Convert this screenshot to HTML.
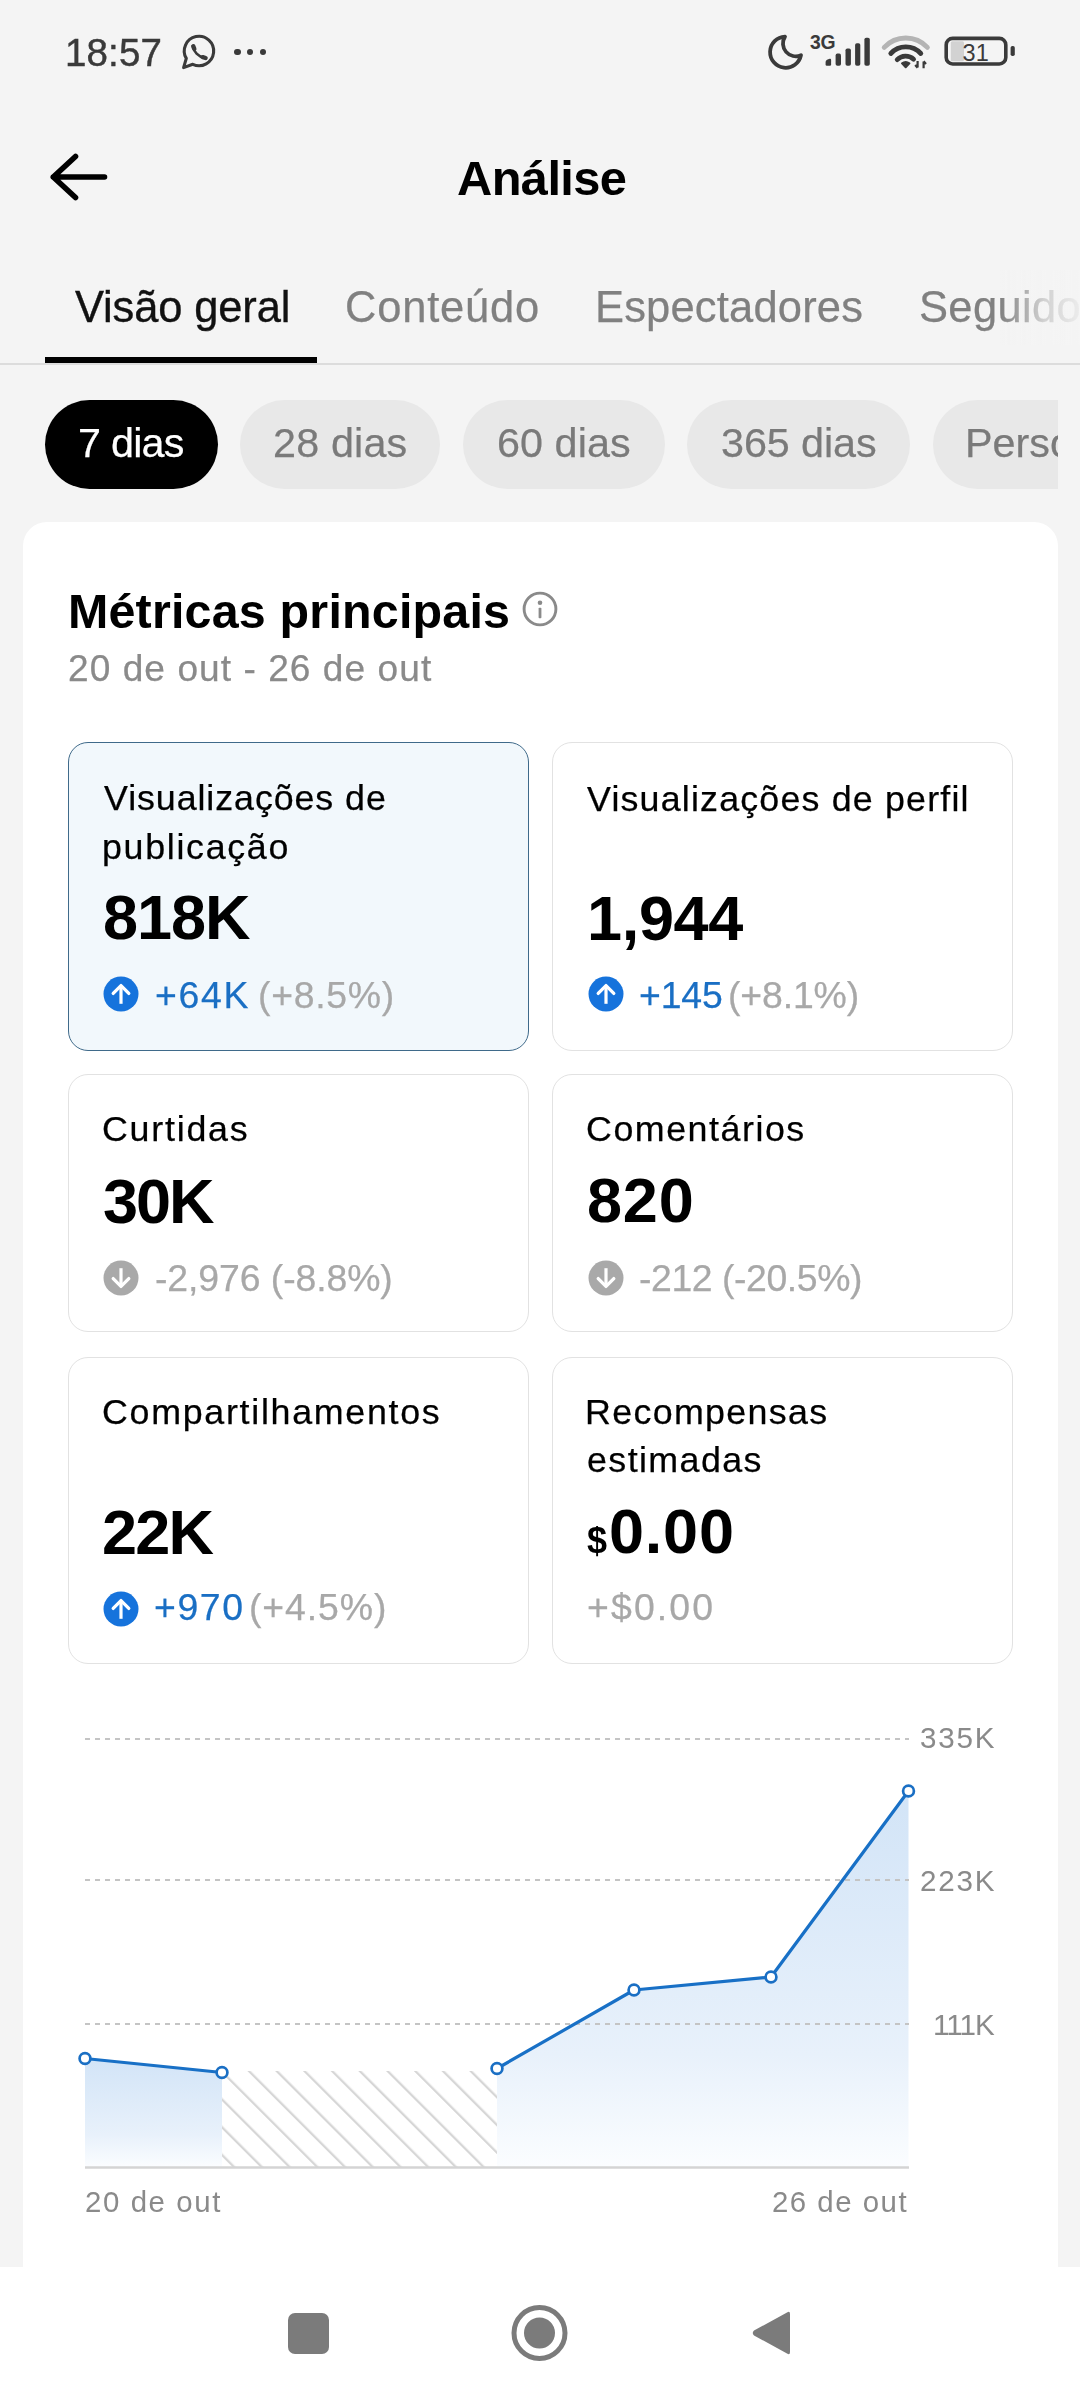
<!DOCTYPE html>
<html><head><meta charset="utf-8"><title>Análise</title>
<style>
html,body{margin:0;padding:0}
body{width:1080px;height:2400px;overflow:hidden;position:relative;background:#f4f4f4;font-family:"Liberation Sans",Arial,sans-serif}
.t{position:absolute;white-space:nowrap;line-height:1;will-change:transform}
.t{line-height:1}
.a{position:absolute}
.dot{width:6.6px;height:6.6px;border-radius:50%;background:#3a3a3a}
</style></head><body>
<div class="t" style="left:65.1px;top:34.2px;font-size:38.5px;font-weight:400;color:#3a3a3a;letter-spacing:0.15px;-webkit-text-stroke:0.45px #3a3a3a;">18:57</div>
<svg class="a" style="left:175px;top:30px" width="48" height="45" viewBox="175 30 48 45">
<path d="M192.8 64.3 A14.7 14.7 0 1 0 186.3 58.4 L183.6 67.6 Z" fill="none" stroke="#3a3a3a" stroke-width="3.1" stroke-linejoin="round"/>
<path d="M193.4 46.5 C193.6 51.5 198 56.6 204.6 57.9" fill="none" stroke="#3a3a3a" stroke-width="2.6" stroke-linecap="round"/>
<path d="M193.2 46.2 L194.3 48.8 M202.8 57.2 L205.6 58" fill="none" stroke="#3a3a3a" stroke-width="4.4" stroke-linecap="round"/>
</svg>
<div class="a dot" style="left:234px;top:48.8px"></div><div class="a dot" style="left:246.8px;top:48.8px"></div><div class="a dot" style="left:259.6px;top:48.8px"></div><svg class="a" style="left:760px;top:28px" width="120" height="46" viewBox="760 28 120 46">
<path d="M785 36.6 A15.6 15.6 0 1 0 801 55.2 A12.8 12.8 0 0 1 785 36.6 Z" fill="none" stroke="#3a3a3a" stroke-width="3.8" stroke-linejoin="round"/>
<g fill="#3a3a3a">
<path d="M825.6 62 Q825.6 60.5 827 59.8 L829.6 58.8 Q831.1 58.3 831.1 60 V64.6 Q831.1 65.8 829.9 65.8 H826.8 Q825.6 65.8 825.6 64.6 Z"/>
<rect x="835.6" y="53.6" width="5.4" height="12.2" rx="1.8"/>
<rect x="845.5" y="48.4" width="5.4" height="17.4" rx="1.8"/>
<rect x="855.1" y="43.2" width="5.2" height="22.6" rx="1.8"/>
<rect x="864.4" y="37.8" width="5.4" height="28" rx="1.8"/>
</g>
<text x="810" y="48.6" font-family="Liberation Sans, sans-serif" font-weight="700" font-size="19.4" fill="#3a3a3a" letter-spacing="-0.3">3G</text>
</svg>
<svg class="a" style="left:875px;top:28px" width="150" height="46" viewBox="875 28 150 46">
<g fill="none" stroke-linecap="round">
<path d="M884.2 47.4 A29.5 29.5 0 0 1 927.4 47.4" stroke="#b4b4b4" stroke-width="4.8"/>
<path d="M890.8 53.5 A20.5 20.5 0 0 1 920.8 53.5" stroke="#3a3a3a" stroke-width="4.8"/>
<path d="M897.2 59.6 A11.8 11.8 0 0 1 913.6 59.2" stroke="#3a3a3a" stroke-width="4.8"/>
</g>
<path d="M902 63.4 Q905.7 60.6 909.4 63.4 L905.7 67.2 Z" fill="#3a3a3a" stroke="#3a3a3a" stroke-width="2" stroke-linejoin="round"/>
<path d="M917.6 61 V67.5 M915.2 65 L917.6 67.8 M923.6 68.2 V61.5 M923.6 61.2 L926 64" fill="none" stroke="#3a3a3a" stroke-width="2.2"/>
<rect x="946.2" y="38.4" width="59.6" height="25.6" rx="6.5" fill="none" stroke="#3a3a3a" stroke-width="3.6"/>
<rect x="950.8" y="41.2" width="13.2" height="20" rx="1.5" fill="#d2d2d2"/>
<rect x="1010.6" y="46" width="4.2" height="10" rx="1.8" fill="#3a3a3a"/>
<text x="962.6" y="60.6" font-family="Liberation Sans, sans-serif" font-size="23.5" fill="#3a3a3a">31</text>
</svg>
<svg class="a" style="left:40px;top:145px" width="80" height="64" viewBox="40 145 80 64">
<path d="M75.5 156.5 L53.3 177 L75.5 197.5 M53.3 177 H104.5" fill="none" stroke="#000" stroke-width="5.6" stroke-linecap="round" stroke-linejoin="round"/>
</svg><div class="t" style="left:456.6px;top:154.3px;font-size:48.8px;font-weight:700;color:#000;letter-spacing:-0.60px;">Análise</div>
<div class="t" style="left:74.5px;top:285.7px;font-size:43.5px;font-weight:400;color:#111;letter-spacing:-0.15px;-webkit-text-stroke:0.35px #111;">Visão geral</div>
<div class="t" style="left:345.0px;top:285.7px;font-size:43.5px;font-weight:400;color:#808080;letter-spacing:0.79px;-webkit-text-stroke:0.25px #808080;">Conteúdo</div>
<div class="t" style="left:594.5px;top:285.7px;font-size:43.5px;font-weight:400;color:#808080;letter-spacing:0.18px;-webkit-text-stroke:0.25px #808080;">Espectadores</div>
<div class="t" style="left:919.0px;top:285.7px;font-size:43.5px;font-weight:400;color:#808080;letter-spacing:0.00px;-webkit-text-stroke:0.25px #808080;letter-spacing:0.36px">Seguidores</div>
<div class="a" style="left:1000px;top:270px;width:80px;height:75px;background:linear-gradient(90deg,rgba(244,244,244,0) 0%,rgba(244,244,244,.7) 55%,rgba(244,244,244,.93) 100%)"></div><div class="a" style="left:0;top:363px;width:1080px;height:2px;background:#dcdcdc"></div><div class="a" style="left:45px;top:357px;width:272px;height:6px;background:#000"></div><div class="a" style="left:0;top:390px;width:1058px;height:110px;overflow:hidden"><div class="a" style="left:44.6px;top:9.5px;width:173.5px;height:89px;border-radius:45px;background:#000"></div><div class="t" style="left:77.8px;top:32.8px;font-size:41.3px;font-weight:400;color:#fff;letter-spacing:-0.76px;-webkit-text-stroke:0.25px #fff;">7 dias</div>
<div class="a" style="left:240px;top:9.5px;width:200px;height:89px;border-radius:45px;background:#e8e8e8"></div><div class="t" style="left:273.0px;top:32.8px;font-size:41.3px;font-weight:400;color:#7a7a7a;letter-spacing:0.17px;-webkit-text-stroke:0.25px #7a7a7a;">28 dias</div>
<div class="a" style="left:463.3px;top:9.5px;width:201.59999999999997px;height:89px;border-radius:45px;background:#e8e8e8"></div><div class="t" style="left:496.9px;top:32.8px;font-size:41.3px;font-weight:400;color:#7a7a7a;letter-spacing:0.07px;-webkit-text-stroke:0.25px #7a7a7a;">60 dias</div>
<div class="a" style="left:686.5px;top:9.5px;width:223.5px;height:89px;border-radius:45px;background:#e8e8e8"></div><div class="t" style="left:720.5px;top:32.8px;font-size:41.3px;font-weight:400;color:#7a7a7a;letter-spacing:-0.07px;-webkit-text-stroke:0.25px #7a7a7a;">365 dias</div>
<div class="a" style="left:932.5px;top:9.5px;width:227.5px;height:89px;border-radius:45px;background:#e8e8e8"></div><div class="t" style="left:964.5px;top:32.8px;font-size:41.3px;font-weight:400;color:#7a7a7a;letter-spacing:0.00px;-webkit-text-stroke:0.25px #7a7a7a;">Personalizado</div>
</div><div class="a" style="left:23px;top:522px;width:1035px;height:1800px;border-radius:24px;background:#fff"></div><div class="t" style="left:68.1px;top:586.8px;font-size:48.4px;font-weight:700;color:#000;letter-spacing:0.20px;">Métricas principais</div>
<svg class="a" style="left:520.4px;top:589px" width="40" height="40" viewBox="0 0 40 40">
<circle cx="20" cy="20" r="15.9" fill="none" stroke="#8a8a8a" stroke-width="2.9"/>
<circle cx="20" cy="13.8" r="2.3" fill="#8a8a8a"/>
<rect x="18.6" y="18.8" width="2.8" height="10.4" rx="0.8" fill="#8a8a8a"/>
</svg><div class="t" style="left:68.0px;top:650.4px;font-size:37.1px;font-weight:400;color:#8a8a8a;letter-spacing:1.05px;-webkit-text-stroke:0.25px #8a8a8a;">20 de out - 26 de out</div>
<div class="a" style="left:68px;top:742px;width:461px;height:309px;box-sizing:border-box;border:1.6px solid #3f6a8a;border-radius:20px;background:#f2f8fc"></div><div class="a" style="left:551.5px;top:742px;width:461.0px;height:309px;box-sizing:border-box;border:1.6px solid #e2e2e2;border-radius:20px;background:#fff"></div><div class="a" style="left:68px;top:1073.5px;width:461px;height:258.5px;box-sizing:border-box;border:1.6px solid #e2e2e2;border-radius:20px;background:#fff"></div><div class="a" style="left:551.5px;top:1073.5px;width:461.0px;height:258.5px;box-sizing:border-box;border:1.6px solid #e2e2e2;border-radius:20px;background:#fff"></div><div class="a" style="left:68px;top:1356.5px;width:461px;height:307.0px;box-sizing:border-box;border:1.6px solid #e2e2e2;border-radius:20px;background:#fff"></div><div class="a" style="left:551.5px;top:1356.5px;width:461.0px;height:307.0px;box-sizing:border-box;border:1.6px solid #e2e2e2;border-radius:20px;background:#fff"></div><div class="t" style="left:103.7px;top:781.4px;font-size:35.8px;font-weight:400;color:#000;letter-spacing:0.92px;-webkit-text-stroke:0.25px #000;">Visualizações de</div>
<div class="t" style="left:102.4px;top:829.5px;font-size:35.8px;font-weight:400;color:#000;letter-spacing:1.69px;-webkit-text-stroke:0.25px #000;">publicação</div>
<div class="t" style="left:102.7px;top:886.3px;font-size:63px;font-weight:700;color:#000;letter-spacing:-1.00px;">818K</div>
<svg class="a" style="left:103.45px;top:976.00px" width="36" height="36" viewBox="0 0 36 36"><circle cx="18" cy="18" r="17.5" fill="#1673dc"/><path d="M18 27.8 V11" fill="none" stroke="#fff" stroke-width="3.2"/><path d="M10.2 17.4 L18 9.6 L25.8 17.4" fill="none" stroke="#fff" stroke-width="3.3" stroke-linecap="round" stroke-linejoin="round"/></svg><div class="t" style="left:154.5px;top:977.1px;font-size:37.4px;font-weight:400;color:#1a6fc4;letter-spacing:1.70px;-webkit-text-stroke:0.25px #1a6fc4;">+64K</div>
<div class="t" style="left:257.8px;top:977.1px;font-size:37.4px;font-weight:400;color:#a8a8a8;letter-spacing:0.70px;-webkit-text-stroke:0.25px #a8a8a8;">(+8.5%)</div>
<div class="t" style="left:587.4px;top:781.6px;font-size:35.8px;font-weight:400;color:#000;letter-spacing:1.18px;-webkit-text-stroke:0.25px #000;">Visualizações de perfil</div>
<div class="t" style="left:586.8px;top:886.6px;font-size:63px;font-weight:700;color:#000;letter-spacing:-0.32px;">1,944</div>
<svg class="a" style="left:587.50px;top:976.00px" width="36" height="36" viewBox="0 0 36 36"><circle cx="18" cy="18" r="17.5" fill="#1673dc"/><path d="M18 27.8 V11" fill="none" stroke="#fff" stroke-width="3.2"/><path d="M10.2 17.4 L18 9.6 L25.8 17.4" fill="none" stroke="#fff" stroke-width="3.3" stroke-linecap="round" stroke-linejoin="round"/></svg><div class="t" style="left:639.0px;top:977.1px;font-size:37.4px;font-weight:400;color:#1a6fc4;letter-spacing:-0.17px;-webkit-text-stroke:0.25px #1a6fc4;">+145</div>
<div class="t" style="left:727.8px;top:977.1px;font-size:37.4px;font-weight:400;color:#a8a8a8;letter-spacing:-0.13px;-webkit-text-stroke:0.25px #a8a8a8;">(+8.1%)</div>
<div class="t" style="left:101.5px;top:1112.4px;font-size:35.8px;font-weight:400;color:#000;letter-spacing:1.76px;-webkit-text-stroke:0.25px #000;">Curtidas</div>
<div class="t" style="left:102.7px;top:1169.6px;font-size:63px;font-weight:700;color:#000;letter-spacing:-2.00px;">30K</div>
<svg class="a" style="left:103.45px;top:1259.50px" width="36" height="36" viewBox="0 0 36 36"><circle cx="18" cy="18" r="17.5" fill="#a9a9a9"/><path d="M18 8.2 V25" fill="none" stroke="#fff" stroke-width="3.2"/><path d="M10.2 18.6 L18 26.4 L25.8 18.6" fill="none" stroke="#fff" stroke-width="3.3" stroke-linecap="round" stroke-linejoin="round"/></svg><div class="t" style="left:154.8px;top:1260.1px;font-size:37.4px;font-weight:400;color:#a8a8a8;letter-spacing:-0.09px;-webkit-text-stroke:0.25px #a8a8a8;">-2,976 (-8.8%)</div>
<div class="t" style="left:585.7px;top:1112.1px;font-size:35.8px;font-weight:400;color:#000;letter-spacing:1.53px;-webkit-text-stroke:0.25px #000;">Comentários</div>
<div class="t" style="left:586.7px;top:1169.4px;font-size:63px;font-weight:700;color:#000;letter-spacing:0.80px;">820</div>
<svg class="a" style="left:587.50px;top:1259.50px" width="36" height="36" viewBox="0 0 36 36"><circle cx="18" cy="18" r="17.5" fill="#a9a9a9"/><path d="M18 8.2 V25" fill="none" stroke="#fff" stroke-width="3.2"/><path d="M10.2 18.6 L18 26.4 L25.8 18.6" fill="none" stroke="#fff" stroke-width="3.3" stroke-linecap="round" stroke-linejoin="round"/></svg><div class="t" style="left:638.5px;top:1259.9px;font-size:37.4px;font-weight:400;color:#a8a8a8;letter-spacing:-0.43px;-webkit-text-stroke:0.25px #a8a8a8;">-212 (-20.5%)</div>
<div class="t" style="left:101.5px;top:1395.0px;font-size:35.8px;font-weight:400;color:#000;letter-spacing:1.71px;-webkit-text-stroke:0.25px #000;">Compartilhamentos</div>
<div class="t" style="left:102.2px;top:1500.6px;font-size:63px;font-weight:700;color:#000;letter-spacing:-1.75px;">22K</div>
<svg class="a" style="left:103.45px;top:1590.60px" width="36" height="36" viewBox="0 0 36 36"><circle cx="18" cy="18" r="17.5" fill="#1673dc"/><path d="M18 27.8 V11" fill="none" stroke="#fff" stroke-width="3.2"/><path d="M10.2 17.4 L18 9.6 L25.8 17.4" fill="none" stroke="#fff" stroke-width="3.3" stroke-linecap="round" stroke-linejoin="round"/></svg><div class="t" style="left:153.5px;top:1589.2px;font-size:37.4px;font-weight:400;color:#1a6fc4;letter-spacing:1.60px;-webkit-text-stroke:0.25px #1a6fc4;">+970</div>
<div class="t" style="left:249.0px;top:1589.2px;font-size:37.4px;font-weight:400;color:#a8a8a8;letter-spacing:0.90px;-webkit-text-stroke:0.25px #a8a8a8;">(+4.5%)</div>
<div class="t" style="left:584.7px;top:1395.3px;font-size:35.8px;font-weight:400;color:#000;letter-spacing:1.33px;-webkit-text-stroke:0.25px #000;">Recompensas</div>
<div class="t" style="left:586.7px;top:1443.2px;font-size:35.8px;font-weight:400;color:#000;letter-spacing:1.41px;-webkit-text-stroke:0.25px #000;">estimadas</div>
<div class="t" style="left:586.5px;top:1523.0px;font-size:36px;font-weight:700;color:#000;letter-spacing:0.00px;">$</div>
<div class="t" style="left:608.5px;top:1500.1px;font-size:63px;font-weight:700;color:#000;letter-spacing:0.77px;">0.00</div>
<div class="t" style="left:586.6px;top:1589.3px;font-size:37.4px;font-weight:400;color:#a8a8a8;letter-spacing:2.14px;-webkit-text-stroke:0.25px #a8a8a8;">+$0.00</div>
<svg class="a" style="left:0;top:1700px" width="1080" height="560" viewBox="0 1700 1080 560">
<defs>
<linearGradient id="g1" x1="0" y1="0" x2="0" y2="1">
<stop offset="0" stop-color="#d2e4f7"/><stop offset="0.7" stop-color="#e8f1fb"/><stop offset="1" stop-color="#fbfdff"/></linearGradient>
<pattern id="hatch" width="19.6" height="19.6" patternUnits="userSpaceOnUse" patternTransform="translate(5.8 0) rotate(-45)">
<rect x="0" y="0" width="2.3" height="19.6" fill="#d6d6d6"/></pattern>
</defs>
<path d="M85 2058.5 L222 2072.5 L222 2167.5 L85 2167.5 Z" fill="url(#g1)"/>
<path d="M497 2068.5 L634 1990 L771 1977 L908.5 1791 L908.5 2167.5 L497 2167.5 Z" fill="url(#g1)"/>
<rect x="222" y="2071" width="275" height="96.5" fill="url(#hatch)"/>
<g stroke="#c4c4c4" stroke-width="2" stroke-dasharray="5 5">
<line x1="85" y1="1739" x2="909" y2="1739"/><line x1="85" y1="1880" x2="909" y2="1880"/><line x1="85" y1="2024" x2="909" y2="2024"/>
</g>
<line x1="85" y1="2167.5" x2="909" y2="2167.5" stroke="#d4d4d4" stroke-width="2.6"/>
<polyline points="85,2058.5 222,2072.5" fill="none" stroke="#1870c6" stroke-width="3.2"/>
<polyline points="497,2068.5 634,1990 771,1977 908.5,1791" fill="none" stroke="#1870c6" stroke-width="3.2" stroke-linejoin="round"/>
<circle cx="85" cy="2058.5" r="5.4" fill="#fff" stroke="#1a6fc4" stroke-width="2.7"/><circle cx="222" cy="2072.5" r="5.4" fill="#fff" stroke="#1a6fc4" stroke-width="2.7"/><circle cx="497" cy="2068.5" r="5.4" fill="#fff" stroke="#1a6fc4" stroke-width="2.7"/><circle cx="634" cy="1990" r="5.4" fill="#fff" stroke="#1a6fc4" stroke-width="2.7"/><circle cx="771" cy="1977" r="5.4" fill="#fff" stroke="#1a6fc4" stroke-width="2.7"/><circle cx="908.5" cy="1791" r="5.4" fill="#fff" stroke="#1a6fc4" stroke-width="2.7"/>
</svg><div class="t" style="left:919.8px;top:1722.8px;font-size:29.6px;font-weight:400;color:#8a8a8a;letter-spacing:1.83px;-webkit-text-stroke:0.01px #8a8a8a;">335K</div>
<div class="t" style="left:919.8px;top:1865.7px;font-size:29.6px;font-weight:400;color:#8a8a8a;letter-spacing:1.83px;-webkit-text-stroke:0.01px #8a8a8a;">223K</div>
<div class="t" style="left:932.6px;top:2009.5px;font-size:29.6px;font-weight:400;color:#8a8a8a;letter-spacing:-0.97px;-webkit-text-stroke:0.01px #8a8a8a;">111K</div>
<div class="t" style="left:84.5px;top:2187.1px;font-size:29.4px;font-weight:400;color:#8a8a8a;letter-spacing:1.59px;-webkit-text-stroke:0.01px #8a8a8a;">20 de out</div>
<div class="t" style="left:772.0px;top:2187.1px;font-size:29.4px;font-weight:400;color:#8a8a8a;letter-spacing:1.50px;-webkit-text-stroke:0.01px #8a8a8a;">26 de out</div>
<div class="a" style="left:0;top:2267px;width:1080px;height:133px;background:#fff"></div><div class="a" style="left:287.5px;top:2312.5px;width:41px;height:41px;border-radius:7px;background:#7b7b7b"></div><svg class="a" style="left:505px;top:2299px" width="70" height="70" viewBox="0 0 70 70">
<circle cx="34.5" cy="34" r="25.5" fill="none" stroke="#7b7b7b" stroke-width="5"/>
<circle cx="34.5" cy="34" r="15.5" fill="#7b7b7b"/></svg><svg class="a" style="left:745px;top:2305px" width="50" height="56" viewBox="0 0 50 56">
<path d="M42 7.5 Q45 5.5 45 9 V47 Q45 50.5 42 48.5 L9 30.5 Q6.5 28 9 25.5 Z" fill="#7b7b7b"/></svg>
</body></html>
